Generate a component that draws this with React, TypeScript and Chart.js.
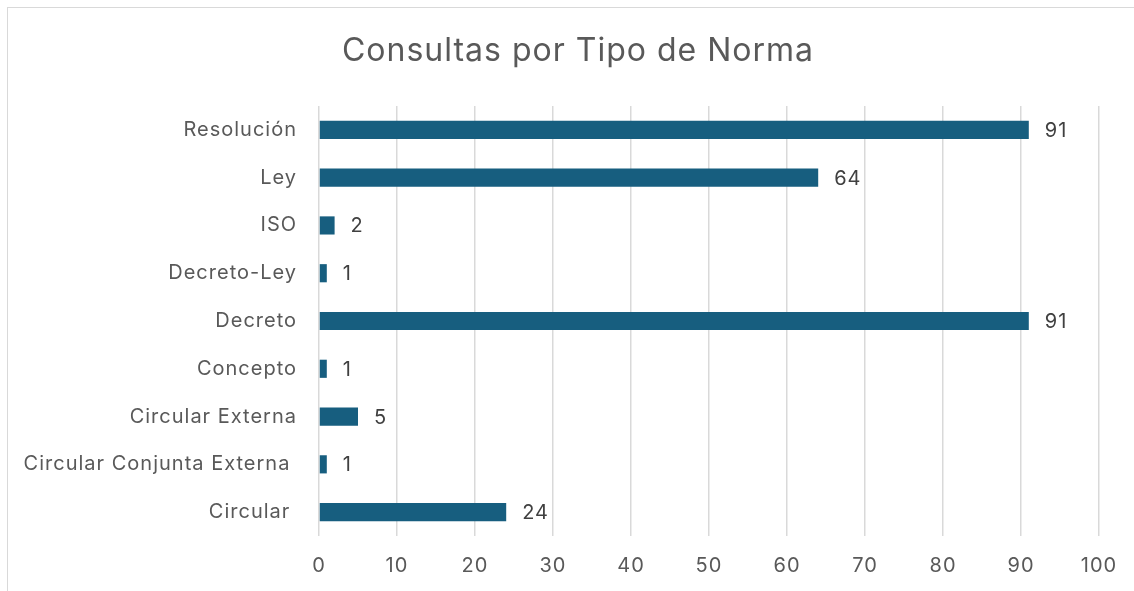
import React, { useEffect, useRef } from "react";
import { Chart, registerables } from "chart.js";

Chart.register(...registerables);

const categories = [
  "Resolución",
  "Ley",
  "ISO",
  "Decreto-Ley",
  "Decreto",
  "Concepto",
  "Circular Externa",
  "Circular Conjunta Externa ",
  "Circular ",
];
const values = [91, 64, 2, 1, 91, 1, 5, 1, 24];
const titleText = "Consultas por Tipo de Norma";
const FONT = "Inter, 'Open Sans', sans-serif";

const spacingPlugin = {
  id: "spacing",
  beforeInit(chart: any) {
    chart.ctx.letterSpacing = "1px";
  },
  beforeDraw(chart: any) {
    chart.ctx.letterSpacing = "1px";
  },
};

const titlePlugin = {
  id: "customTitle",
  afterDraw(chart: any) {
    const ctx = chart.ctx;
    ctx.save();
    ctx.letterSpacing = "1px";
    ctx.font = `32px ${FONT}`;
    ctx.fillStyle = "#595959";
    ctx.textAlign = "center";
    ctx.textBaseline = "middle";
    ctx.fillText(titleText, 578, 51);
    ctx.restore();
  },
};

const labelPlugin = {
  id: "barLabels",
  afterDatasetsDraw(chart: any) {
    const ctx = chart.ctx;
    const meta = chart.getDatasetMeta(0);
    ctx.save();
    ctx.letterSpacing = "1px";
    ctx.font = `20px ${FONT}`;
    ctx.fillStyle = "#404040";
    ctx.textAlign = "left";
    ctx.textBaseline = "middle";
    meta.data.forEach((bar: any, i: number) => {
      ctx.fillText(String(values[i]), bar.x + 16, bar.y + 1);
    });
    ctx.restore();
  },
};

export default function App() {
  const ref = useRef<HTMLCanvasElement>(null);
  useEffect(() => {
    if (!ref.current) return;
    const chart = new Chart(ref.current, {
      type: "bar",
      data: {
        labels: categories,
        datasets: [
          {
            data: values,
            backgroundColor: "#175E7F",
            borderWidth: 0,
            categoryPercentage: 1,
            barPercentage: 0.38,
          },
        ],
      },
      options: {
        indexAxis: "y",
        animation: false,
        responsive: false,
        maintainAspectRatio: false,
        layout: { padding: { left: 0, right: 35, top: 106, bottom: 0 } },
        plugins: {
          legend: { display: false },
          tooltip: { enabled: false },
          title: { display: false },
        },
        scales: {
          x: {
            min: 0,
            max: 100,
            ticks: {
              stepSize: 10,
              color: "#595959",
              font: { family: FONT, size: 20 },
              padding: 18,
            },
            grid: { color: "#d9d9d9", lineWidth: 1.5, drawTicks: false },
            border: { display: false },
            afterFit: (scale: any) => {
              scale.height = 55;
            },
          },
          y: {
            ticks: {
              color: "#595959",
              font: { family: FONT, size: 20 },
              padding: 22,
            },
            grid: { display: false, drawTicks: false },
            border: { display: false },
            afterFit: (scale: any) => {
              scale.width = 319;
            },
          },
        },
      },
      plugins: [spacingPlugin, labelPlugin, titlePlugin],
    });
    return () => chart.destroy();
  }, []);

  return (
    <div
      style={{
        position: "fixed",
        left: 0,
        top: 0,
        width: 1134,
        height: 591,
        overflow: "hidden",
        background: "#fff",
      }}
    >
      <div
        style={{
          position: "absolute",
          left: 7,
          top: 7,
          width: 1200,
          height: 700,
          border: "1.5px solid #d9d9d9",
        }}
      />
      <canvas
        ref={ref}
        width={1134}
        height={591}
        style={{ position: "absolute", left: 0, top: 0, width: 1134, height: 591 }}
      />
    </div>
  );
}
